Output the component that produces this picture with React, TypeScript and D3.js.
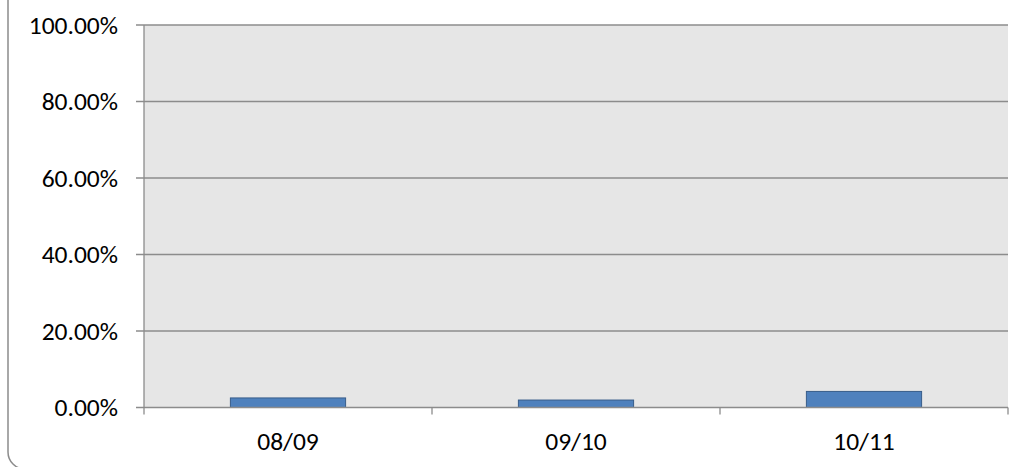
import React, { useEffect, useRef } from "react";
import * as d3 from "d3";

const categories = ["08/09", "09/10", "10/11"];
const values = [0.025, 0.0195, 0.042];
const yTicks = [0, 0.2, 0.4, 0.6, 0.8, 1.0];

const App: React.FC = () => {
  const svgRef = useRef<SVGSVGElement>(null);
  const width = 1025;
  const height = 467;

  useEffect(() => {
    if (!svgRef.current) return;
    const svg = d3.select(svgRef.current);
    svg.selectAll("*").remove();

    const marginLeft = 144;
    const marginRight = 17;
    const marginTop = 25;
    const plotBottom = 407.5;

    const font = "Carlito, Calibri, 'Liberation Sans', Arial, sans-serif";

    // outer chart border (only the left edge and bottom-left corner show)
    svg
      .append("rect")
      .attr("x", 8)
      .attr("y", -40)
      .attr("width", 1060)
      .attr("height", 509)
      .attr("rx", 17)
      .attr("fill", "#fff")
      .attr("stroke", "#8c8c8c")
      .attr("stroke-width", 1.5);

    const x = d3
      .scaleBand()
      .domain(categories)
      .range([marginLeft, width - marginRight])
      .paddingInner(0.6)
      .paddingOuter(0.3);

    const y = d3.scaleLinear().domain([0, 1]).range([plotBottom, marginTop]);

    // plot area
    svg
      .append("rect")
      .attr("x", marginLeft)
      .attr("y", marginTop)
      .attr("width", width - marginRight - marginLeft)
      .attr("height", plotBottom - marginTop)
      .attr("fill", "#e6e6e6");

    // gridlines
    svg
      .append("g")
      .selectAll("line")
      .data(yTicks.filter((d) => d > 0))
      .join("line")
      .attr("x1", marginLeft - 8)
      .attr("x2", width - marginRight)
      .attr("y1", (d) => y(d))
      .attr("y2", (d) => y(d))
      .attr("stroke", "#8c8c8c")
      .attr("stroke-width", 1.3);

    // bars
    svg
      .append("g")
      .selectAll("rect")
      .data(values)
      .join("rect")
      .attr("x", (_, i) => x(categories[i])!)
      .attr("y", (d) => y(d))
      .attr("width", x.bandwidth())
      .attr("height", (d) => plotBottom - y(d))
      .attr("fill", "#4f81bd")
      .attr("stroke", "#385d8a")
      .attr("stroke-width", 1);

    // y axis line
    svg
      .append("line")
      .attr("x1", marginLeft)
      .attr("x2", marginLeft)
      .attr("y1", marginTop)
      .attr("y2", plotBottom)
      .attr("stroke", "#8c8c8c")
      .attr("stroke-width", 1.3);

    // x axis line
    svg
      .append("line")
      .attr("x1", marginLeft - 8)
      .attr("x2", width - marginRight)
      .attr("y1", plotBottom)
      .attr("y2", plotBottom)
      .attr("stroke", "#8c8c8c")
      .attr("stroke-width", 1.5);

    // x ticks at category boundaries
    const bounds = [
      ...categories.map((c) => x(c)! - (x.step() * x.paddingInner()) / 2),
      width - marginRight,
    ];
    svg
      .append("g")
      .selectAll("line")
      .data(bounds)
      .join("line")
      .attr("x1", (d) => d)
      .attr("x2", (d) => d)
      .attr("y1", plotBottom)
      .attr("y2", plotBottom + 7)
      .attr("stroke", "#8c8c8c")
      .attr("stroke-width", 1.3);

    // y labels
    svg
      .append("g")
      .selectAll("text")
      .data(yTicks)
      .join("text")
      .attr("x", 118)
      .attr("y", (d) => y(d))
      .attr("dy", "0.35em")
      .attr("text-anchor", "end")
      .attr("font-family", font)
      .attr("font-size", 25.5)
      .attr("fill", "#000")
      .text((d) => d3.format(".2%")(d));

    // x labels
    svg
      .append("g")
      .selectAll("text")
      .data(categories)
      .join("text")
      .attr("x", (d) => x(d)! + x.bandwidth() / 2)
      .attr("y", 441)
      .attr("dy", "0.35em")
      .attr("text-anchor", "middle")
      .attr("font-family", font)
      .attr("font-size", 25.5)
      .attr("fill", "#000")
      .text((d) => d);
  }, []);

  return (
    <svg
      ref={svgRef}
      width={width}
      height={height}
      style={{ position: "absolute", left: 0, top: 0, display: "block" }}
    />
  );
};

export default App;
